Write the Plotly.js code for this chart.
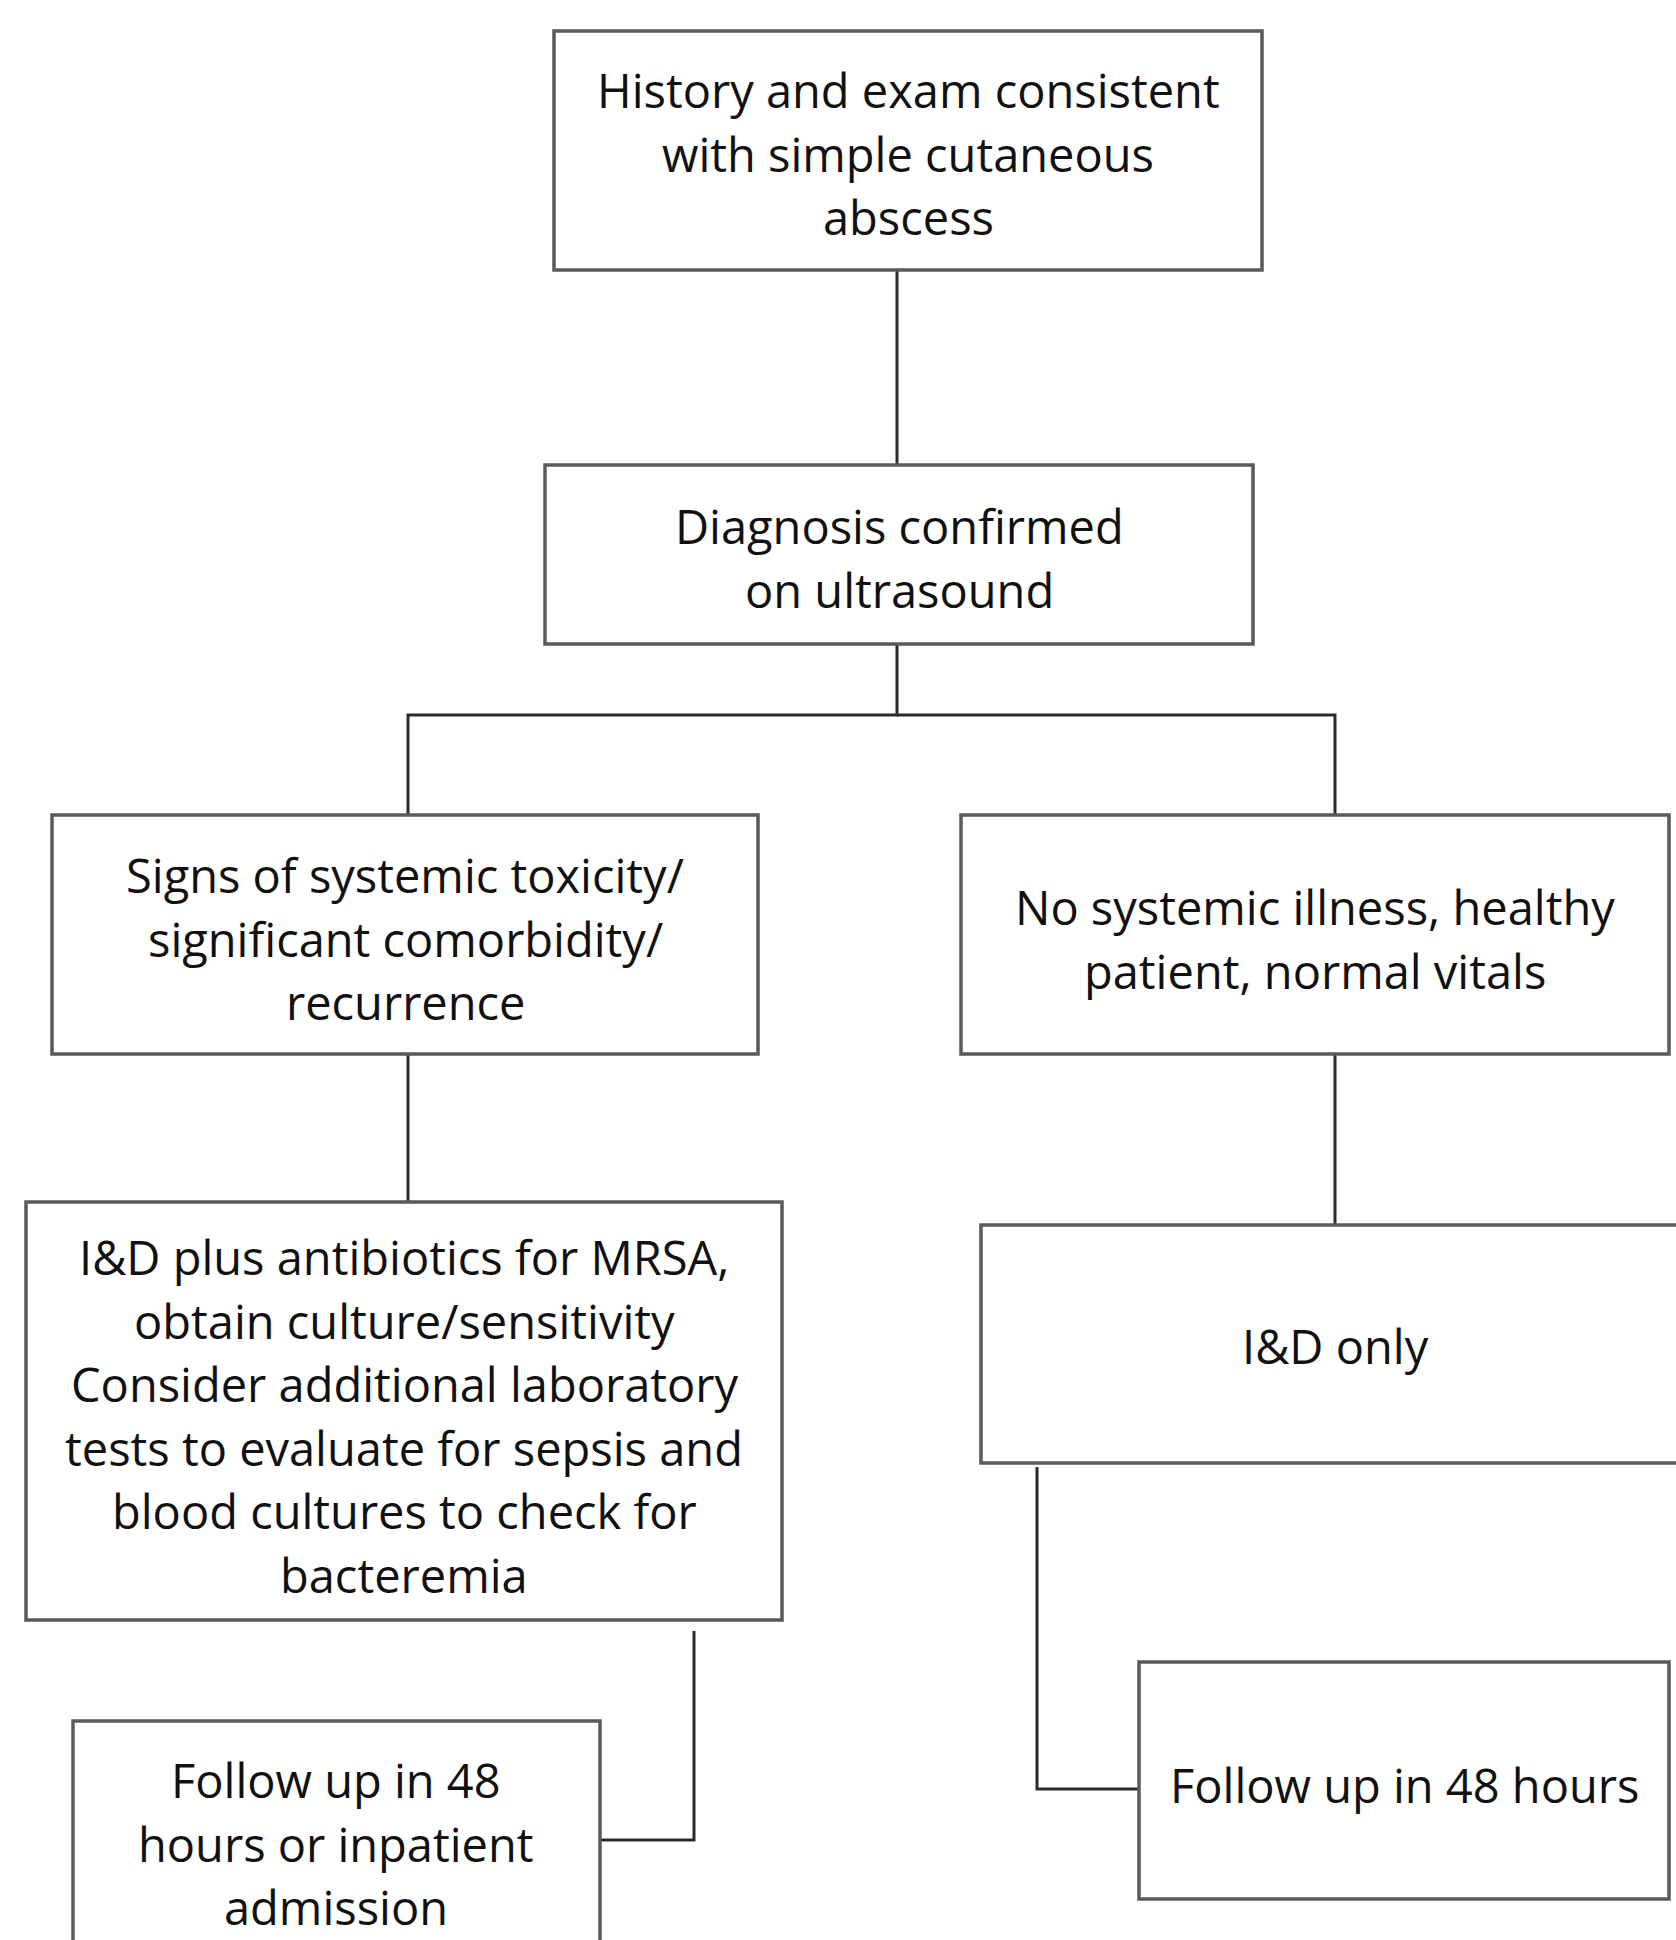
<!DOCTYPE html>
<html><head><meta charset="utf-8">
<script src="https://cdn.plot.ly/plotly-3.0.1.min.js"></script>
<style>html,body{margin:0;padding:0;background:#fff;}</style>
</head><body>
<div id="chart" style="width:1676px;height:1940px;"></div>
<script>
// Node texts (one entry per line)
const nodeIds = ["history","diagnosis","toxic","healthy","idPlus","idOnly","followA","followB"];
const nodeLines = [
  ["History and exam consistent","with simple cutaneous","abscess"],
  ["Diagnosis confirmed","on ultrasound"],
  ["Signs of systemic toxicity/","significant comorbidity/","recurrence"],
  ["No systemic illness, healthy","patient, normal vitals"],
  ["I&D plus antibiotics for MRSA,","obtain culture/sensitivity","Consider additional laboratory","tests to evaluate for sepsis and","blood cultures to check for","bacteremia"],
  ["I&D only"],
  ["Follow up in 48","hours or inpatient","admission"],
  ["Follow up in 48 hours"]
];
// Edges: from -> to
const edgeFrom = ["history","diagnosis","diagnosis","toxic","healthy","idPlus","idOnly"];
const edgeTo   = ["diagnosis","toxic","healthy","idPlus","idOnly","followA","followB"];

// Layout geometry (pixels)
const box = {
  history:  [554,1262,31,270],
  diagnosis:[545,1253,465,644],
  toxic:    [52,758,815,1054],
  healthy:  [961,1669,815,1054],
  idPlus:   [26,782,1202,1620],
  idOnly:   [981,1682,1225,1463],
  followA:  [73,600,1721,1950],
  followB:  [1139,1669,1662,1899]
};
const textTop = {history:90, diagnosis:526, toxic:875, healthy:907, idPlus:1257, idOnly:1346, followA:1780, followB:1785};
const lineGap = 63.5;
const centerX = {history:908, diagnosis:899, toxic:405, healthy:1315, idPlus:404, idOnly:1335, followA:336, followB:1404};

// Connector paths per edge
const paths = [
  [[897,270],[897,465]],
  [[897,644],[897,715],[408,715],[408,815]],
  [[897,715],[1335,715],[1335,815]],
  [[408,1054],[408,1202]],
  [[1335,1054],[1335,1225]],
  [[694,1631],[694,1840],[599,1840]],
  [[1037,1467],[1037,1789],[1139,1789]]
];

const shapes = [];
paths.forEach(p => {
  let d = "M" + p.map(pt => pt[0] + "," + pt[1]).join(" L");
  shapes.push({type:"path", xref:"x", yref:"y", path:d, line:{color:"#2a2a2a", width:3}});
});
nodeIds.forEach(id => {
  const b = box[id];
  shapes.push({type:"rect", xref:"x", yref:"y", x0:b[0], x1:b[1], y0:b[2], y1:b[3],
    line:{color:"#5a5a5a", width:3.5}, fillcolor:"#ffffff"});
});

const annotations = [];
nodeIds.forEach((id,i) => {
  nodeLines[i].forEach((t,j) => {
    annotations.push({x:centerX[id], y:textTop[id] + j*lineGap, xref:"x", yref:"y",
      text:t.replace(/&/g,"&amp;"), showarrow:false, xanchor:"center", yanchor:"middle",
      font:{family:"Open Sans, sans-serif", size:47, color:"#111111", weight:500}});
  });
});

const layout = {
  width:1676, height:1940,
  margin:{l:0,r:0,t:0,b:0},
  paper_bgcolor:"#ffffff", plot_bgcolor:"#ffffff",
  xaxis:{range:[0,1676], visible:false, fixedrange:true},
  yaxis:{range:[1940,0], visible:false, fixedrange:true},
  shapes:shapes, annotations:annotations, showlegend:false
};
Plotly.newPlot("chart", [{x:[0],y:[0],mode:"markers",marker:{opacity:0},hoverinfo:"skip"}], layout, {staticPlot:true});
</script>
</body></html>
